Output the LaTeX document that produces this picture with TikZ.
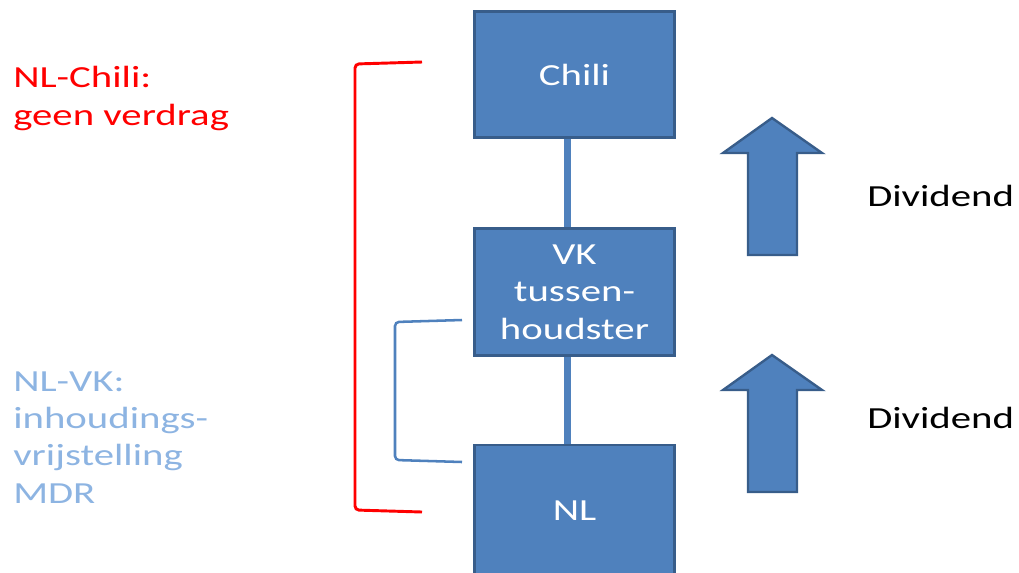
\documentclass[tikz,border=0pt]{standalone}
\usepackage{fontspec}
\setmainfont{Carlito}[FakeStretch=1.33]
\definecolor{boxblue}{RGB}{79,129,189}
\definecolor{boxedge}{RGB}{56,93,138}
\definecolor{lightblue}{RGB}{141,180,226}

\begin{document}
\begin{tikzpicture}[x=0.75pt,y=-0.75pt,
    every node/.style={font=\fontsize{23}{28}\selectfont},
    entity/.style={draw=boxedge,fill=boxblue,line width=2.2pt,minimum width=150pt,
        minimum height=95pt,text=white,align=center,inner sep=0pt},
    link/.style={draw=boxblue,line width=5.25pt},
    flow/.style={draw=boxedge,fill=boxblue,line width=1.8pt},
    note/.style={anchor=base west,align=left,inner sep=0pt}]
    \useasboundingbox (0,0) rectangle (1019,572);
    % entities
    \node[entity] (chili) at (574.5,74.5) {Chili};
    \node[entity] (vk) at (574.5,292) {VK\\tussen-\\houdster};
    \node[entity,minimum height=99pt] (nl) at (574.5,511) {NL};
    \draw[link] ([xshift=-5.25pt]chili.south) -- ([xshift=-5.25pt]vk.north);
    \draw[link] ([xshift=-5.25pt]vk.south) -- ([xshift=-5.25pt]nl.north);
    % dividend arrows
    \foreach \dy in {0,237}
        \draw[flow] (772,118+\dy) -- (822,153+\dy) -- (797,153+\dy) -- (797,255+\dy)
            -- (748,255+\dy) -- (748,153+\dy) -- (723,153+\dy) -- cycle;
    \node[note] (div1) at (867,206) {Dividend};
    \node[note] (div2) at (867,428) {Dividend};
    % treaties (base = last line)
    \node[note,text=red] (nlchili) at (13,125) {NL-Chili:\\geen verdrag};
    \node[note,text=lightblue] (nlvk) at (13,503) {NL-VK:\\inhoudings-\\vrijstelling\\MDR};
    \draw[red,line width=2.2pt,rounded corners=3pt] (422,62) -- (355,64) -- (355,510) -- (422,512);
    \draw[boxblue,line width=1.9pt,rounded corners=3pt] (462,320) -- (395,322) -- (395,460) -- (462,462);
\end{tikzpicture}
\end{document}
